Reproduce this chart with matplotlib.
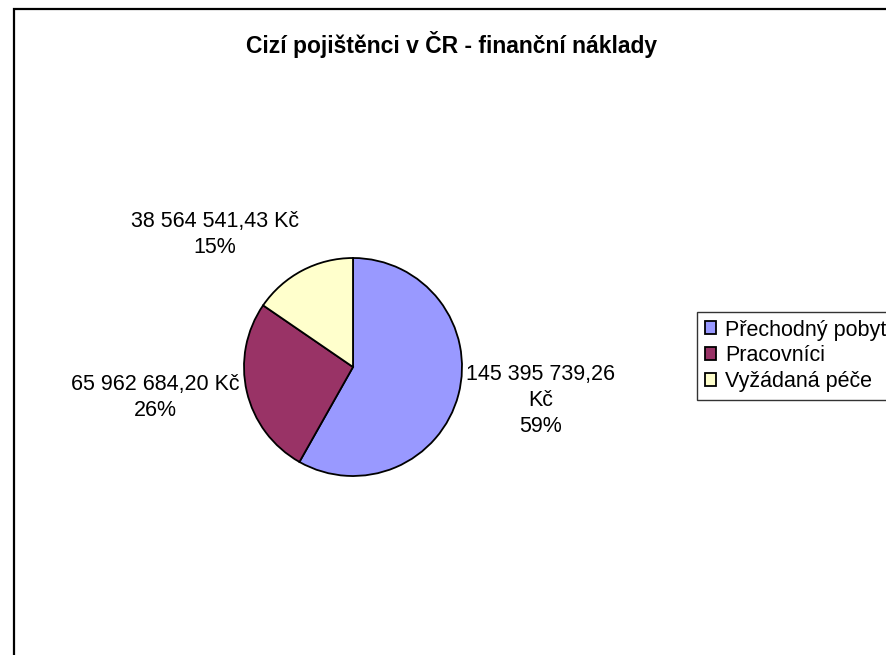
import numpy as np
import matplotlib.pyplot as plt
from matplotlib.patches import Rectangle

plt.rcParams['font.family'] = ['Liberation Sans', 'DejaVu Sans']

# data
categories = ["Přechodný pobyt", "Pracovníci", "Vyžádaná péče"]
values = [145395739.26, 65962684.20, 38564541.43]
pct_labels = ["59%", "26%", "15%"]
colors = ["#9999FF", "#993366", "#FFFFCC"]


def fmt_kc(v):
    """ 145395739.26 -> '145 395 739,26' """
    return f"{v:,.2f}".replace(",", " ").replace(".", ",")


W, H = 887, 655
fig = plt.figure(figsize=(W / 100, H / 100), dpi=100)

# chart area border (only top and left edges are visible in the crop)
fig.patches.append(Rectangle((14 / W, -0.2), 2, 1.2 - 8.5 / H, transform=fig.transFigure,
                             fill=False, edgecolor='black', linewidth=1.6))

# pie centre at (353, 367) px, radius 109 px
cx, cy, r = 353, 367, 109
ax = fig.add_axes([(cx - 2 * r) / W, (H - cy - 2 * r) / H, 4 * r / W, 4 * r / H])
wedges, _ = ax.pie(values, colors=colors, startangle=90, counterclock=False,
                   radius=1, wedgeprops=dict(edgecolor='black', linewidth=1.3))
ax.set_xlim(-2, 2)
ax.set_ylim(-2, 2)
ax.set_aspect('equal')
ax.axis('off')

# data labels outside the wedges
for w, v, p in zip(wedges, values, pct_labels):
    ang = np.deg2rad((w.theta1 + w.theta2) / 2)
    x, y = 1.07 * np.cos(ang), 1.07 * np.sin(ang)
    sep = "\n" if v >= 1e8 else " "
    txt = f"{fmt_kc(v)}{sep}Kč\n{p}"
    ha = 'right' if x < 0 else 'left'
    if np.sin(ang) > 0.5:
        va, dy = 'bottom', 4
    else:
        va, dy = 'center', -3
    ax.annotate(txt, (x, y), xytext=(0, dy), textcoords='offset points',
                ha=ha, va=va, multialignment='center', fontsize=15.5,
                linespacing=1.3)

fig.text(452 / W, 1 - 45 / H, "Cizí pojištěnci v ČR - finanční náklady",
         ha='center', va='center', fontsize=16.5, fontweight='bold')

leg = fig.legend(wedges, categories, loc='upper left',
                 bbox_to_anchor=(697 / W, 1 - 312 / H), fontsize=15.5,
                 frameon=True, fancybox=False, edgecolor='black',
                 handlelength=0.55, handleheight=0.55, handletextpad=0.4,
                 labelspacing=0.22, borderpad=0.35, borderaxespad=0)
leg.get_frame().set_linewidth(1.0)

fig.savefig("out.png", dpi=100, facecolor='white')
